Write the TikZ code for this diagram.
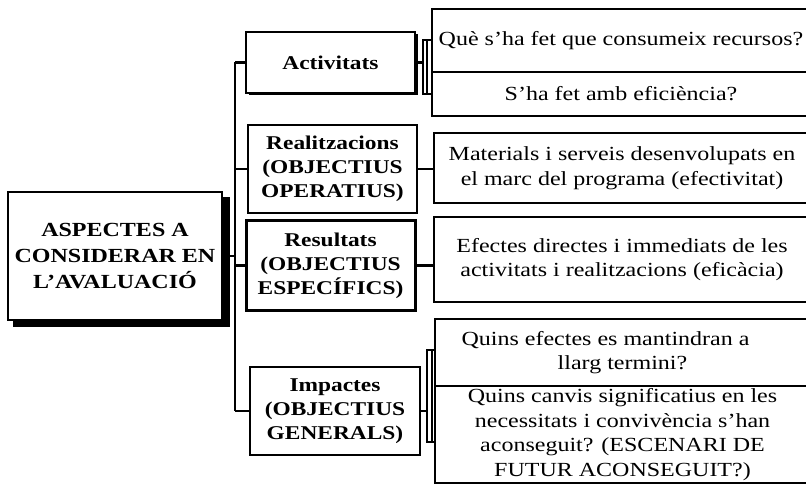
\documentclass[tikz,border=0pt]{standalone}
\usepackage{fontspec}
\setmainfont{Liberation Serif}[FakeStretch=1.2]
\begin{document}
\begin{tikzpicture}[x=1pt,y=-1pt,
  every node/.style={inner sep=0pt, outer sep=0pt},
  ln/.style={line width=2.1pt},
  lbox/.style={draw, line width=2.1pt, fill=white, anchor=north west, align=center,
     font=\fontsize{19.5}{24}\selectfont\bfseries},
  rbox/.style={draw, line width=2.1pt, fill=white, anchor=north west, align=center,
     font=\fontsize{20}{24.5}\selectfont},
  mainbox/.style={draw, line width=2.1pt, fill=white, anchor=north west, align=center,
     font=\fontsize{20}{26}\selectfont\bfseries}
]
\useasboundingbox (0,0) rectangle (806,497);
\fill[white] (0,0) rectangle (806,497);

% main box with shadow
\fill[black] (13,197) rectangle (230,327);
\node[mainbox, minimum width=214pt, minimum height=128pt] (main) at (8,192)
  {ASPECTES A\\CONSIDERAR EN\\L'AVALUACIÓ};

% left column boxes
\fill[black] (248.5,34.5) rectangle (417.5,95.5);
\node[lbox, minimum width=169pt, minimum height=61pt] (act) at (246,32) {Activitats};
\node[lbox, minimum width=169pt, minimum height=88pt] (real) at (248,125)
  {Realitzacions\\(OBJECTIUS\\OPERATIUS)};
\node[lbox, line width=3pt, minimum width=169pt, minimum height=89pt] (res) at (246,221)
  {Resultats\\(OBJECTIUS\\ESPECÍFICS)};
\node[lbox, minimum width=170pt, minimum height=88pt] (imp) at (250,367)
  {Impactes\\(OBJECTIUS\\GENERALS)};

% right column boxes
\node[rbox, minimum width=378pt, minimum height=63pt] (q1) at (432,9)
  {Què s'ha fet que consumeix recursos?};
\node[rbox, minimum width=378pt, minimum height=44pt] (q2) at (432,72)
  {S'ha fet amb eficiència?};
\node[rbox, minimum width=376pt, minimum height=70pt] (mat) at (434,133)
  {Materials i serveis desenvolupats en\\el marc del programa (efectivitat)};
\node[rbox, minimum width=376pt, minimum height=85pt] (ef) at (434,217)
  {Efectes directes i immediats de les\\activitats i realitzacions (eficàcia)};
\node[rbox, minimum width=375pt, minimum height=67pt] (i1) at (435,319)
  {Quins efectes es mantindran a\hspace*{34pt}\\llarg termini?};
\node[rbox, minimum width=375pt, minimum height=97pt] (i2) at (435,386)
  {Quins canvis significatius en les\\necessitats i convivència s'han\\aconseguit? (ESCENARI DE\\FUTUR ACONSEGUIT?)};

% trunk
\coordinate (tt) at (235,0);
\draw[ln] (act.west -| tt) -- (imp.west -| tt);
\draw[ln] (main.east) -- (main.east -| tt);
\draw[ln] (act.west -| tt) -- (act.west);
\draw[ln] (real.west -| tt) -- (real.west);
\draw[ln] (res.west -| tt) -- (res.west);
\draw[ln] (imp.west -| tt) -- (imp.west);

% activitats bracket
\coordinate (ab) at (423,0);
\draw[ln] (act.east) -- (act.east -| ab);
\draw[line width=1.5pt] (423,40) rectangle (427,94);
\draw[ln] (427,40) -- (q1.west |- 0,40);
\draw[ln] (427,94) -- (q2.west |- 0,94);

% single connectors
\draw[ln] (real.east) -- (mat.west |- real.east);
\draw[ln] (res.east) -- (ef.west |- res.east);

% impactes bracket
\coordinate (ib) at (427,0);
\draw[ln] (imp.east) -- (imp.east -| ib);
\draw[line width=1.5pt] (427,350) rectangle (432,442);
\draw[ln] (432,350) -- (i1.west |- 0,350);
\draw[ln] (432,442) -- (i2.west |- 0,442);
\end{tikzpicture}
\end{document}
